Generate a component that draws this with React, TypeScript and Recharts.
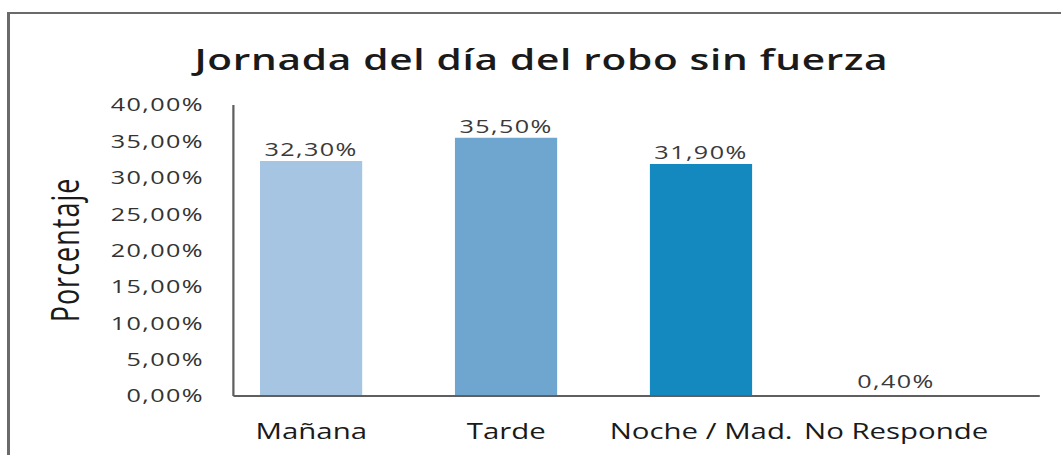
import React from 'react';
import { BarChart, Bar, XAxis, YAxis, Cell, LabelList } from 'recharts';

const categories = ['Mañana', 'Tarde', 'Noche / Mad.', 'No Responde'];
const values = [32.3, 35.5, 31.9, 0.4];
const yTicks = [0, 5, 10, 15, 20, 25, 30, 35, 40];
const barColors = ['#a6c5e3', '#6ea6cf', '#1489c0', '#ffffff'];
const title = 'Jornada del día del robo sin fuerza';
const yTitle = 'Porcentaje';

const data = categories.map((c, i) => ({ name: c, value: values[i] }));
const fmt = (v: any) => Number(v).toFixed(2).replace('.', ',') + '%';

const S = 1.4;
const W = 752;
const H = 443;
const FONT = '"Open Sans", "DejaVu Sans", sans-serif';

export default function App() {
  return (
    <div style={{ position: 'fixed', left: 0, top: 0, width: 1061, height: 455, overflow: 'hidden', background: '#fff' }}>
      <div
        style={{
          position: 'absolute',
          left: 7,
          top: 12,
          width: 1054,
          height: 443,
          borderLeft: '3px solid #6a6a6a',
          borderTop: '2px solid #6a6a6a',
          boxSizing: 'border-box',
        }}
      />
      <div
        style={{
          position: 'absolute',
          left: 8,
          top: 12,
          width: W,
          height: H,
          transform: `scaleX(${S})`,
          transformOrigin: '0 0',
        }}
      >
        <BarChart width={W} height={H} data={data} margin={{ top: 93, right: 15, left: 0, bottom: 0 }}>
          <XAxis
            dataKey="name"
            interval={0}
            axisLine={{ stroke: '#5f5f5f', strokeWidth: 2 }}
            tickLine={false}
            tickSize={0}
            tickMargin={28}
            height={59}
            padding={{ left: -14, right: 33 }}
            tick={{ fill: '#1a1a1a', fontSize: 21, fontFamily: FONT }}
          />
          <YAxis
            domain={[0, 40]}
            ticks={yTicks}
            tickFormatter={fmt}
            width={161}
            axisLine={{ stroke: '#5f5f5f', strokeWidth: 1.6 }}
            tickLine={false}
            tickSize={0}
            tickMargin={21}
            tick={{ fill: '#333333', fontSize: 18, fontFamily: FONT, letterSpacing: 1 }}
          />
          <Bar dataKey="value" barSize={73} isAnimationActive={false}>
            {data.map((d, i) => (
              <Cell key={d.name} fill={barColors[i]} />
            ))}
            <LabelList
              dataKey="value"
              position="top"
              offset={5}
              formatter={fmt}
              fill="#3a3a3a"
              fontSize={18}
              letterSpacing={1}
              fontFamily={FONT}
            />
          </Bar>
        </BarChart>
        <svg width={W} height={H} style={{ position: 'absolute', left: 0, top: 0, pointerEvents: 'none' }}>
          <text
            x={381}
            y={58}
            textAnchor="middle"
            fontSize={29}
            fontWeight={600}
            letterSpacing={0.5}
            fontFamily={FONT}
            fill="#1a1a1a"
          >
            {title}
          </text>
          <text
            transform="translate(40.7,238) rotate(-90)"
            textAnchor="middle"
            dominantBaseline="central"
            fontSize={27}
            letterSpacing={1}
            fontFamily={FONT}
            fill="#1a1a1a"
          >
            {yTitle}
          </text>
        </svg>
      </div>
    </div>
  );
}
